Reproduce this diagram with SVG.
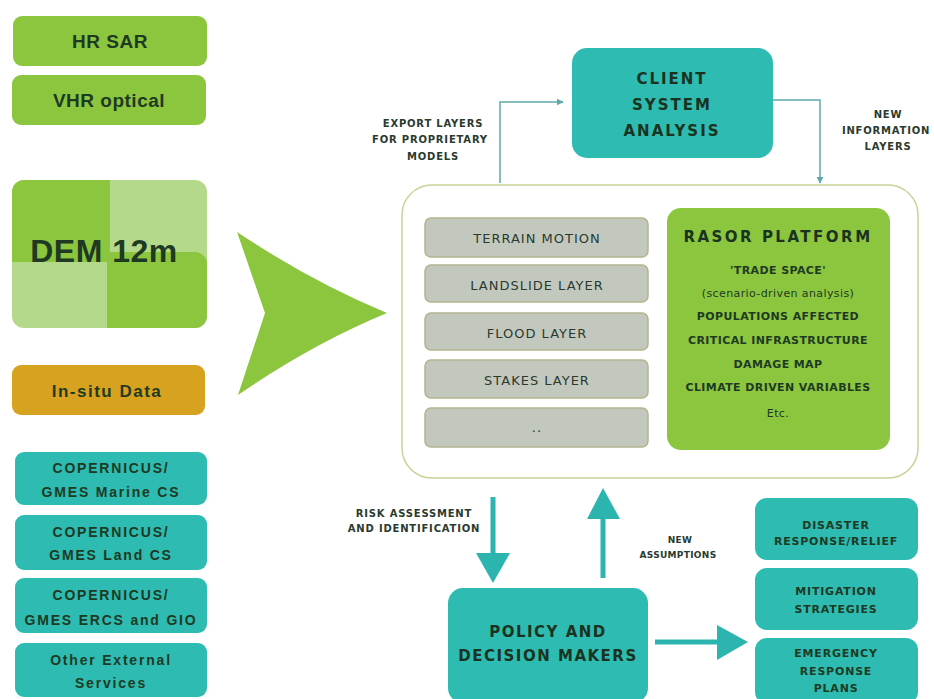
<svg xmlns="http://www.w3.org/2000/svg" width="934" height="699" viewBox="0 0 934 699">
<defs>
<style>
.g{fill:#8CC63F}
.lg{fill:#B5D98A}
.tl{fill:#2DBBB2}
.t{font-family:"Liberation Sans",Arial,sans-serif;fill:#1E3A22;text-anchor:middle;font-weight:bold}
.lb{font-family:"DejaVu Sans",sans-serif;fill:#2A3A2E;text-anchor:middle;font-weight:bold;font-size:10px;letter-spacing:0.8px}
.lay{fill:#C3C8BF;stroke:#B4B48C;stroke-width:1.5}
.ly{font-family:"DejaVu Sans",sans-serif;fill:#2A3A2E;text-anchor:middle;font-size:13px;letter-spacing:1px}
.rs{font-family:"DejaVu Sans",sans-serif;fill:#1E3A22;text-anchor:middle;font-size:11px;font-weight:bold;letter-spacing:0.4px}
.cp{font-family:"Liberation Sans",Arial,sans-serif;fill:#1E3A22;text-anchor:middle;font-weight:bold;font-size:14px;letter-spacing:1.8px}
.rb{font-family:"DejaVu Sans",sans-serif;fill:#1E3A22;text-anchor:middle;font-size:11px;font-weight:bold;letter-spacing:0.8px}
.hd{font-family:"DejaVu Sans",sans-serif;fill:#1A3320;text-anchor:middle;font-size:15px;font-weight:bold}
.thin{fill:none;stroke:#5FA8A8;stroke-width:1.5}
.fat{fill:none;stroke:#2BB5AE;stroke-width:5}
.head{fill:#2BB5AE}
</style>
<marker id="sm" viewBox="0 0 10 10" refX="9" refY="5" markerWidth="7" markerHeight="7" orient="auto" markerUnits="userSpaceOnUse">
<path d="M0,0 L10,5 L0,10 z" fill="#5FA8A8"/>
</marker>
</defs>
<rect width="934" height="699" fill="#FFFFFF"/>

<g id="connectors">
<path id="big-arrow" d="M237,232 Q312,282 387,313 Q312,344 238,395 L265,313 Z" fill="#8CC63F"/>
<path class="thin" d="M500,183 L500,102 L563,102" marker-end="url(#sm)"/>
<path class="thin" d="M773,100 L820,100 L820,183" marker-end="url(#sm)"/>
<path class="fat" d="M493,497 L493,560"/>
<polygon class="head" points="476,553 510,553 493,583"/>
<path class="fat" d="M603,578 L603,512"/>
<polygon class="head" points="587,519 620,519 603,488"/>
<path class="fat" d="M655,642 L725,642"/>
<polygon class="head" points="717,625 748,642 717,660"/>
</g>

<g id="labels">
<text class="lb" x="433" y="127">EXPORT LAYERS</text>
<text class="lb" x="430" y="143">FOR PROPRIETARY</text>
<text class="lb" x="433" y="160">MODELS</text>
<text class="lb" x="888" y="118">NEW</text>
<text class="lb" x="886" y="134">INFORMATION</text>
<text class="lb" x="888" y="150">LAYERS</text>
<text class="lb" x="414" y="517">RISK ASSESSMENT</text>
<text class="lb" x="414" y="532">AND IDENTIFICATION</text>
<text class="lb" x="680" y="543" style="font-size:9px;letter-spacing:0.3px">NEW</text>
<text class="lb" x="678" y="558" style="font-size:9px;letter-spacing:0.3px">ASSUMPTIONS</text>
</g>

<g id="hr-sar">
<rect class="g" x="13" y="16" width="194" height="50" rx="9"/>
<text class="t" x="110" y="48" font-size="19" letter-spacing="0.5">HR SAR</text>
</g>
<g id="vhr-optical">
<rect class="g" x="12" y="75" width="194" height="50" rx="9"/>
<text class="t" x="109" y="107" font-size="19" letter-spacing="0.5">VHR optical</text>
</g>
<g id="dem">
<rect class="lg" x="12" y="180" width="195" height="148" rx="12"/>
<path class="g" d="M12,192 a12,12 0 0 1 12,-12 L110,180 L110,262 L12,262 Z"/>
<path class="g" d="M107,252 L195,252 a12,12 0 0 1 12,12 L207,316 a12,12 0 0 1 -12,12 L107,328 Z"/>
<text class="t" x="104" y="262" font-size="32" letter-spacing="0.5">DEM 12m</text>
</g>
<g id="in-situ">
<rect x="12" y="365" width="193" height="50" rx="9" fill="#D8A221"/>
<text class="t" x="107" y="397" font-size="17" letter-spacing="1.5">In-situ Data</text>
</g>
<g id="cop-marine">
<rect class="tl" x="15" y="452" width="192" height="53" rx="9"/>
<text class="cp" x="111" y="473">COPERNICUS/</text>
<text class="cp" x="111" y="497">GMES Marine CS</text>
</g>
<g id="cop-land">
<rect class="tl" x="15" y="515" width="192" height="55" rx="9"/>
<text class="cp" x="111" y="537">COPERNICUS/</text>
<text class="cp" x="111" y="560">GMES Land CS</text>
</g>
<g id="cop-ercs">
<rect class="tl" x="15" y="578" width="192" height="55" rx="9"/>
<text class="cp" x="111" y="600">COPERNICUS/</text>
<text class="cp" x="111" y="625">GMES ERCS and GIO</text>
</g>
<g id="other-services">
<rect class="tl" x="15" y="643" width="192" height="54" rx="9"/>
<text class="cp" x="111" y="665">Other External</text>
<text class="cp" x="111" y="688">Services</text>
</g>

<g id="client-system-analysis">
<rect class="tl" x="572" y="48" width="201" height="110" rx="15"/>
<text class="hd" x="672" y="84" letter-spacing="2">CLIENT</text>
<text class="hd" x="672" y="110" letter-spacing="2">SYSTEM</text>
<text class="hd" x="672" y="136" letter-spacing="2">ANALYSIS</text>
</g>

<g id="platform-container">
<rect x="402" y="185" width="516" height="293" rx="30" fill="#FFFFFF" stroke="#C5D596" stroke-width="1.5"/>
</g>
<g id="terrain-motion">
<rect class="lay" x="425" y="218" width="223" height="39" rx="6"/>
<text class="ly" x="537" y="243">TERRAIN MOTION</text>
</g>
<g id="landslide-layer">
<rect class="lay" x="425" y="265" width="223" height="37" rx="6"/>
<text class="ly" x="537" y="290">LANDSLIDE LAYER</text>
</g>
<g id="flood-layer">
<rect class="lay" x="425" y="313" width="223" height="37" rx="6"/>
<text class="ly" x="537" y="338">FLOOD LAYER</text>
</g>
<g id="stakes-layer">
<rect class="lay" x="425" y="360" width="223" height="38" rx="6"/>
<text class="ly" x="537" y="385">STAKES LAYER</text>
</g>
<g id="more-layers">
<rect class="lay" x="425" y="408" width="223" height="39" rx="6"/>
<text class="ly" x="537" y="432">..</text>
</g>
<g id="rasor-platform">
<rect class="g" x="667" y="208" width="223" height="242" rx="14"/>
<text class="hd" x="778" y="242" letter-spacing="2.5">RASOR PLATFORM</text>
<text class="rs" x="778" y="274">'TRADE SPACE'</text>
<text class="rs" x="778" y="297" style="font-weight:normal">(scenario-driven analysis)</text>
<text class="rs" x="778" y="320">POPULATIONS AFFECTED</text>
<text class="rs" x="778" y="344">CRITICAL INFRASTRUCTURE</text>
<text class="rs" x="778" y="368">DAMAGE MAP</text>
<text class="rs" x="778" y="391">CLIMATE DRIVEN VARIABLES</text>
<text class="rs" x="778" y="417" style="font-weight:normal">Etc.</text>
</g>

<g id="policy-makers">
<rect class="tl" x="448" y="588" width="200" height="115" rx="15"/>
<text class="hd" x="548" y="637" letter-spacing="1.5">POLICY AND</text>
<text class="hd" x="548" y="661" letter-spacing="1.5">DECISION MAKERS</text>
</g>
<g id="disaster-response">
<rect class="tl" x="755" y="498" width="163" height="62" rx="12"/>
<text class="rb" x="836" y="529">DISASTER</text>
<text class="rb" x="836" y="545">RESPONSE/RELIEF</text>
</g>
<g id="mitigation">
<rect class="tl" x="755" y="568" width="163" height="62" rx="12"/>
<text class="rb" x="836" y="595">MITIGATION</text>
<text class="rb" x="836" y="613">STRATEGIES</text>
</g>
<g id="emergency-plans">
<rect class="tl" x="755" y="638" width="163" height="66" rx="12"/>
<text class="rb" x="836" y="657">EMERGENCY</text>
<text class="rb" x="836" y="675">RESPONSE</text>
<text class="rb" x="836" y="692">PLANS</text>
</g>
</svg>
